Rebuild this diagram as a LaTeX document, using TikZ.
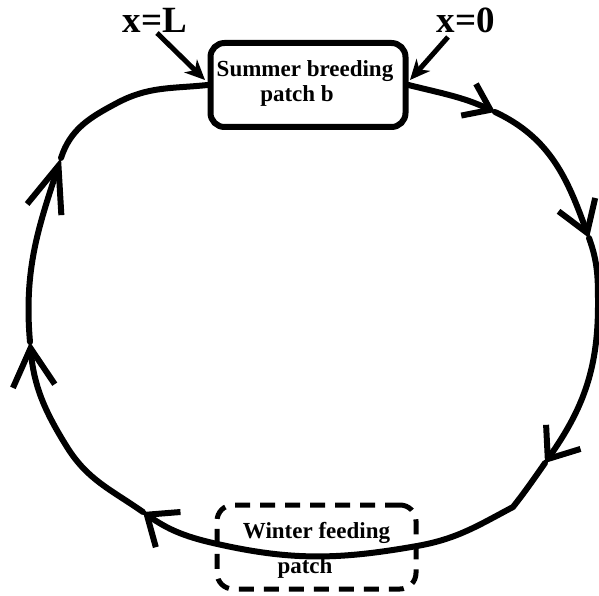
\documentclass[tikz,border=0pt]{standalone}
\usepackage{fontspec}
\setmainfont{Liberation Serif}
\usetikzlibrary{arrows.meta,calc}
\begin{document}
\begin{tikzpicture}[x=1pt,y=1pt,
  loopline/.style={line width=6pt, line cap=round},
  flowtip/.style 2 args={-{Straight Barb[length=#1,width=#2]}},
  ptr/.style={line width=5pt, -{Stealth[length=20pt,width=18pt,inset=6pt]}},
  summerbox/.style={draw, line width=6pt, rounded corners=14pt, minimum width=195pt, minimum height=84pt, inner sep=0pt},
  winterbox/.style={draw, line width=5pt, rounded corners=16pt, dash pattern=on 15pt off 10pt, minimum width=199pt, minimum height=84pt, inner sep=0pt},
  boxtext/.style={font=\bfseries\fontsize{23}{25}\selectfont, anchor=base, inner sep=0pt},
  endlabel/.style={font=\bfseries\fontsize{37}{40}\selectfont, anchor=base, inner sep=0pt}
]
\useasboundingbox (0,0) rectangle (599,595);

% boxes
\node[summerbox] (sb) at (308,510) {};
\node[winterbox] (wb) at (316.5,48) {};

% box texts
\node[boxtext] (sbt1) at (305,518) {Summer breeding};
\node[boxtext] (sbt2) at (297,493) {patch b};
\node[boxtext] (wbt1) at (316.5,57) {Winter feeding};
\node[boxtext] (wbt2) at (305,22) {patch};

% end labels
\node[endlabel] (lblL) at (155,562) {x=L};
\node[endlabel] (lbl0) at (466,562) {x=0};

% pointer arrows
\coordinate (pL) at (157,562);
\coordinate (qL) at (205,515);
\coordinate (p0) at (448,558);
\coordinate (q0) at (410,515);
\draw[ptr] (pL) -- (qL);
\draw[ptr] (p0) -- (q0);

% loop waypoints
\coordinate (t1) at (495,483);
\coordinate (t2) at (589,357);
\coordinate (r)  at (598,290);
\coordinate (t3) at (545,132);
\coordinate (k)  at (513,88);
\coordinate (b1) at (417,49);
\coordinate (b3) at (213,52);
\coordinate (t4) at (143,83);
\coordinate (l1) at (67,148);
\coordinate (t5) at (30,253);
\coordinate (t6) at (61,437);
\coordinate (l3) at (117,492);

% migration loop
\draw[loopline,flowtip={24pt}{35pt}] (sb.east) to[out=346,in=155] (t1);
\draw[loopline,flowtip={30pt}{39pt}] (t1) to[out=335,in=110] (t2);
\draw[loopline,flowtip={27pt}{42pt}] (t2) to[out=290,in=90] (r) to[out=270,in=55] (t3);
\draw[loopline,flowtip={26pt}{43pt}] (t3) to[out=235,in=52] (k) to[out=208,in=10] (b1) to[out=190,in=347] (b3) to[out=167,in=325] (t4);
\draw[loopline,flowtip={38pt}{42pt}] (t4) to[out=145,in=302] (l1) to[out=122,in=275] (t5);
\draw[loopline,flowtip={46pt}{36pt}] (t5) to[out=95,in=252] (t6);
\draw[loopline] (t6) to[out=72,in=208] (l3) to[out=28,in=186] (sb.west);
\end{tikzpicture}
\end{document}
